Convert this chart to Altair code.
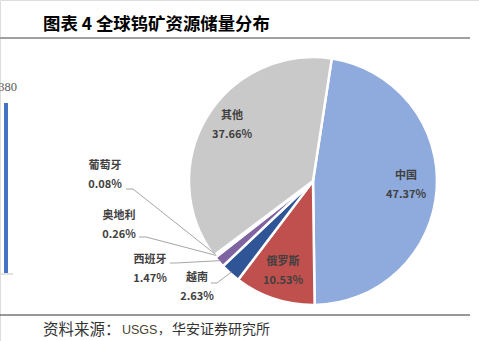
import math
import altair as alt
import pandas as pd

# ---------------- data ----------------
countries = ["中国", "俄罗斯", "越南", "西班牙", "奥地利", "葡萄牙", "其他"]
shares = [47.37, 10.53, 2.63, 1.47, 0.26, 0.08, 37.66]
colors = ["#8FAADC", "#C0504D", "#2F5597", "#8064A2", "#4BACC6", "#F79646", "#C9C9C9"]

title_text = "图表 4 全球钨矿资源储量分布"
source_parts = ["资料来源：", "USGS", "，", "华安证券研究所"]
neighbor_tick = "380"

# ---------------- layout ----------------
W, H = 479, 341
CX, CY, R = 313, 181, 124
START = 0.152
TAU = 2 * math.pi
FONT = "Noto Sans CJK SC"

label_pos = {
    "中国": (406, 185.5),
    "俄罗斯": (283, 271.5),
    "越南": (197, 287.5),
    "西班牙": (150, 269),
    "奥地利": (119, 225.5),
    "葡萄牙": (105, 175.5),
    "其他": (232, 125.5),
}
leader_start = {
    "葡萄牙": [(126, 189), (133, 189)],
    "奥地利": [(139, 237), (146, 237)],
    "西班牙": [(170, 263), (176, 263)],
    "越南": [(211, 283), (217, 283)],
}

total = sum(shares)
mids = {}
cum = 0.0
for c, s in zip(countries, shares):
    a0 = START + TAU * cum / total
    cum += s
    a1 = START + TAU * cum / total
    mids[c] = (a0 + a1) / 2

pie_df = pd.DataFrame({"country": countries, "share": shares, "order": list(range(len(countries)))})

lab_df = pd.DataFrame({
    "country": countries,
    "pct": [f"{s:.2f}%" for s in shares],
    "x": [label_pos[c][0] for c in countries],
    "y": [label_pos[c][1] for c in countries],
})

line_rows = []
for c, pts in leader_start.items():
    m = mids[c]
    end = (CX + (R - 2) * math.sin(m), CY - (R - 2) * math.cos(m))
    for i, (x, y) in enumerate(pts + [end]):
        line_rows.append({"country": c, "i": i, "x": x, "y": y})
line_df = pd.DataFrame(line_rows)

xs = alt.Scale(domain=[0, W], range=[0, W])
ys = alt.Scale(domain=[0, H], range=[0, H])
X = lambda f: alt.X(f, scale=xs, axis=None)
Y = lambda f: alt.Y(f, scale=ys, axis=None)

pie = alt.Chart(pie_df).mark_arc(outerRadius=R, stroke="white", strokeWidth=2.5).encode(
    theta=alt.Theta("share:Q", stack=True, scale=alt.Scale(range=[START, START + TAU])),
    color=alt.Color("country:N", scale=alt.Scale(domain=countries, range=colors), legend=None),
    order=alt.Order("order:Q"),
    x=alt.value(CX),
    y=alt.value(CY),
)

leaders = alt.Chart(line_df).mark_line(color="#A6A6A6", strokeWidth=1).encode(
    x=X("x:Q"), y=Y("y:Q"), detail="country:N", order="i:Q"
)

names = alt.Chart(lab_df).mark_text(
    font=FONT, fontSize=11, fontWeight="bold", color="#404040", dy=-9.5, align="center", baseline="middle"
).encode(x=X("x:Q"), y=Y("y:Q"), text="country:N")

pcts = alt.Chart(lab_df).mark_text(
    font=FONT, fontSize=11, fontWeight="bold", color="#404040", dy=9.5, align="center", baseline="middle"
).encode(x=X("x:Q"), y=Y("y:Q"), text="pct:N")

# title, source and neighbour fragments
deco_text = pd.DataFrame({
    "t": [title_text, source_parts[0], source_parts[1], source_parts[2], source_parts[3], neighbor_tick],
    "x": [43, 43, 122, 158, 172, 17],
    "y": [25, 330, 330, 330, 330, 87],
    "k": ["title", "src1", "usgs", "comma", "src2", "tick"],
})

title = alt.Chart(deco_text[deco_text.k == "title"]).mark_text(
    font=FONT, fontSize=17.4, fontWeight="bold", color="#000000", align="left", baseline="middle"
).encode(x=X("x:Q"), y=Y("y:Q"), text="t:N")

src1 = alt.Chart(deco_text[deco_text.k == "src1"]).mark_text(
    font=FONT, fontSize=15.5, color="#333333", align="left", baseline="middle"
).encode(x=X("x:Q"), y=Y("y:Q"), text="t:N")

usgs = alt.Chart(deco_text[deco_text.k == "usgs"]).mark_text(
    font="Liberation Sans", fontSize=12.5, color="#4A4430", align="left", baseline="middle"
).encode(x=X("x:Q"), y=Y("y:Q"), text="t:N")

comma = alt.Chart(deco_text[deco_text.k == "comma"]).mark_text(
    font=FONT, fontSize=12, color="#333333", align="left", baseline="middle"
).encode(x=X("x:Q"), y=Y("y:Q"), text="t:N")

src2 = alt.Chart(deco_text[deco_text.k == "src2"]).mark_text(
    font=FONT, fontSize=14, color="#333333", align="left", baseline="middle"
).encode(x=X("x:Q"), y=Y("y:Q"), text="t:N")

tick = alt.Chart(deco_text[deco_text.k == "tick"]).mark_text(
    font="Liberation Serif", fontSize=12.5, color="#595959", align="right", baseline="middle"
).encode(x=X("x:Q"), y=Y("y:Q"), text="t:N")

rules_df = pd.DataFrame({
    "x": [0, 0, 6, 0],
    "x2": [470, 470, 6, 13],
    "y": [38, 315, 103, 274],
    "y2": [38, 315, 273, 274],
    "k": ["top", "bottom", "bar", "base"],
})
rule_colors = {"top": "#A0A0A0", "bottom": "#333333", "bar": "#4472C4", "base": "#D9D9D9"}
rule_widths = {"top": 2, "bottom": 1, "bar": 4, "base": 1.5}

rule_layers = []
for k in ["top", "bottom", "bar", "base"]:
    rule_layers.append(
        alt.Chart(rules_df[rules_df.k == k]).mark_rule(color=rule_colors[k], strokeWidth=rule_widths[k]).encode(
            x=X("x:Q"), x2="x2:Q", y=Y("y:Q"), y2="y2:Q"
        )
    )

chart = alt.layer(
    *rule_layers, pie, leaders, names, pcts, title, src1, usgs, comma, src2, tick
).properties(
    width=W, height=H, autosize="none", padding=0
).configure_view(strokeWidth=0).configure(background="white")

chart.save("out.html", embed_options={"renderer": "svg", "actions": False})
